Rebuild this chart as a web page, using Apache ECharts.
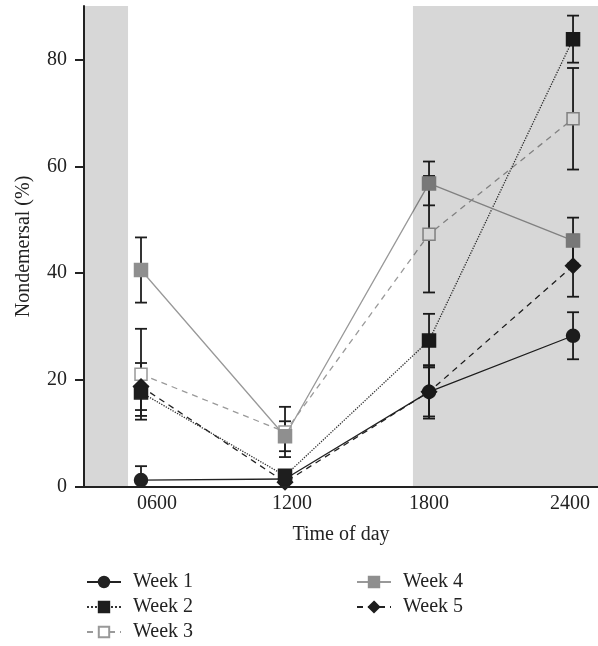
<!DOCTYPE html>
<html>
<head>
<meta charset="utf-8">
<script src="https://cdn.jsdelivr.net/npm/echarts@6/dist/echarts.min.js"></script>
<style>
html,body{margin:0;padding:0;background:#fff;}
#chart{width:598px;height:646px;}
</style>
</head>
<body>
<div id="chart"></div>
<script>
// ---- data ----
const hours = [6, 12, 18, 24];
const tickLabels = ['0600', '1200', '1800', '2400'];
const seriesNames = ['Week 1', 'Week 2', 'Week 3', 'Week 4', 'Week 5'];
const week1 = [1.3, 1.5, 17.8, 28.3];
const week2 = [17.7, 2.1, 27.4, 83.8];
const week3 = [21.1, 10.3, 47.3, 68.9];
const week4 = [40.6, 9.5, 56.8, 46.1];
const week5 = [18.8, 0.9, 17.8, 41.4];
const err1 = [2.6, 0, 5.0, 4.4];
const err2 = [4.4, 0, 5.0, 4.4];
const err3 = [8.5, 4.7, 10.9, 9.5];
const err4 = [6.1, 2.8, 4.1, 4.3];
const err5 = [4.4, 0, 4.6, 5.8];
// shaded (night) periods, in hours
const nightStart = [3.625, 17.33];
const nightEnd = [5.46, 25.04];

// ---- layout constants ----
const X_MIN = 3.625, X_MAX = 25.04, Y_MIN = 0, Y_MAX = 90;
const labelPos = [6.67, 12.29, 18, 23.875];
const FONT = '"Liberation Serif", "DejaVu Serif", serif';

const styles = [
  {symbol: 'circle', size: 13, color: '#222', border: '#222', line: '#222', type: 'solid', z: 2},
  {symbol: 'rect', size: 13, color: '#1e1e1e', border: '#1e1e1e', line: '#333', type: 'dotted', z: 4},
  {symbol: 'rect', size: 12, color: '#fff', border: '#999', line: '#9a9a9a', type: [6, 5], z: 3},
  {symbol: 'rect', size: 13, color: '#8f8f8f', border: '#8f8f8f', line: '#999', type: 'solid', z: 4},
  {symbol: 'diamond', size: 15, color: '#1e1e1e', border: '#1e1e1e', line: '#222', type: [6, 5], z: 3}
];
const values = [week1, week2, week3, week4, week5];
const errs = [err1, err2, err3, err4, err5];

const series = [];
values.forEach((vals, i) => {
  const st = styles[i];
  series.push({
    name: seriesNames[i],
    type: 'line',
    z: st.z,
    data: hours.map((h, j) => [h, vals[j]]),
    symbol: st.symbol,
    symbolSize: st.size,
    showSymbol: true,
    itemStyle: {color: st.color, borderColor: st.border, borderWidth: 1.5},
    lineStyle: {color: st.line, width: 1.3, type: st.type},
    emphasis: {disabled: true},
    animation: false
  });
});

// error bars
values.forEach((vals, i) => {
  series.push({
    type: 'custom',
    z: 1,
    silent: true,
    clip: true,
    animation: false,
    data: hours.map((h, j) => [h, vals[j] - errs[i][j], vals[j] + errs[i][j], errs[i][j]]),
    renderItem: function (params, api) {
      if (api.value(3) <= 0) return null;
      const lo = api.coord([api.value(0), Math.max(0, api.value(1))]);
      const hi = api.coord([api.value(0), api.value(2)]);
      const w = 6;
      const st = {stroke: '#1e1e1e', lineWidth: 1.8};
      const children = [
        {type: 'line', shape: {x1: hi[0], y1: hi[1], x2: lo[0], y2: lo[1]}, style: st},
        {type: 'line', shape: {x1: hi[0] - w, y1: hi[1], x2: hi[0] + w, y2: hi[1]}, style: st}
      ];
      if (api.value(1) > 0) {
        children.push({type: 'line', shape: {x1: lo[0] - w, y1: lo[1], x2: lo[0] + w, y2: lo[1]}, style: st});
      }
      return {type: 'group', children: children};
    }
  });
});

// translucent night shading drawn over the marks
series.push({
  type: 'custom',
  z: 10,
  silent: true,
  animation: false,
  data: nightStart.map((s, k) => [s, nightEnd[k]]),
  renderItem: function (params, api) {
    const p0 = api.coord([api.value(0), Y_MAX]);
    const p1 = api.coord([api.value(1), Y_MIN]);
    return {
      type: 'rect',
      shape: {x: p0[0], y: p0[1], width: p1[0] - p0[0], height: p1[1] - p0[1]},
      style: {fill: 'rgba(0,0,0,0.155)'}
    };
  }
});

const legendText = {fontFamily: FONT, fontSize: 20, color: '#222', lineHeight: 20, padding: [0, 0, 0, 7]};

const chart = echarts.init(document.getElementById('chart'));
chart.setOption({
  animation: false,
  backgroundColor: '#fff',
  grid: {left: 84, right: 0, top: 6, bottom: 159, containLabel: false},
  xAxis: {
    type: 'value',
    min: X_MIN, max: X_MAX,
    z: 20,
    name: 'Time of day',
    nameLocation: 'middle',
    nameGap: 38,
    nameTextStyle: {fontFamily: FONT, fontSize: 20, color: '#222'},
    axisLine: {show: true, lineStyle: {color: '#222', width: 2}},
    axisTick: {show: false},
    splitLine: {show: false},
    axisLabel: {
      customValues: labelPos,
      margin: 7,
      fontFamily: FONT, fontSize: 20, color: '#222',
      formatter: function (v) {
        let best = 0;
        labelPos.forEach((p, k) => { if (Math.abs(p - v) < Math.abs(labelPos[best] - v)) best = k; });
        return tickLabels[best];
      }
    }
  },
  yAxis: {
    type: 'value',
    min: Y_MIN, max: Y_MAX,
    z: 20,
    name: 'Nondemersal (%)',
    nameLocation: 'middle',
    nameGap: 50,
    nameTextStyle: {fontFamily: FONT, fontSize: 20, color: '#222'},
    axisLine: {show: true, lineStyle: {color: '#222', width: 2}},
    axisTick: {show: true, length: 9, lineStyle: {color: '#222', width: 2}, customValues: [0, 20, 40, 60, 80]},
    splitLine: {show: false},
    axisLabel: {customValues: [0, 20, 40, 60, 80], margin: 17, fontFamily: FONT, fontSize: 20, color: '#222'}
  },
  legend: [
    {
      data: ['Week 1', 'Week 2', 'Week 3'],
      orient: 'vertical',
      left: 86, top: 572,
      padding: 0,
      itemWidth: 34, itemHeight: 13, itemGap: 5,
      selectedMode: false,
      textStyle: legendText
    },
    {
      data: ['Week 4', 'Week 5'],
      orient: 'vertical',
      left: 356, top: 572,
      padding: 0,
      itemWidth: 34, itemHeight: 13, itemGap: 5,
      selectedMode: false,
      textStyle: legendText
    }
  ],
  series: series
});
</script>
</body>
</html>
